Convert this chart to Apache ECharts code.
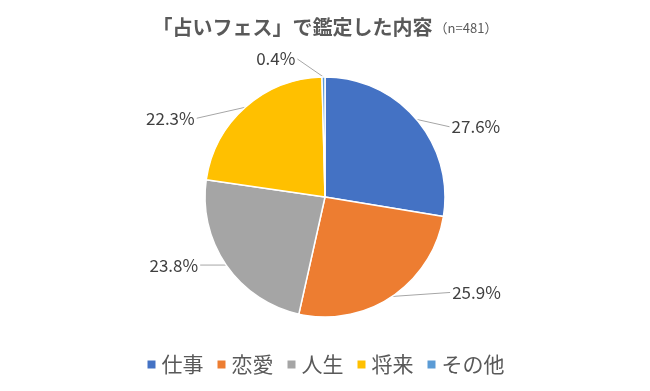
<!DOCTYPE html>
<html><head><meta charset="utf-8">
<script src="https://cdn.jsdelivr.net/npm/echarts@6/dist/echarts.min.js"></script>
<style>html,body{margin:0;padding:0;background:#fff}#c{width:650px;height:391px}</style>
</head><body><div id="c"></div>
<script>
const categories = ['仕事', '恋愛', '人生', '将来', 'その他'];
const values = [27.6, 25.9, 23.8, 22.3, 0.4];
const colors = ['#4472C4', '#ED7D31', '#A5A5A5', '#FFC000', '#5B9BD5'];
const titleText = '「占いフェス」で鑑定した内容';
const subText = '（n=481）';

const lineCfg = [
  {length: 4, length2: 30},
  {length: 0, length2: 58},
  {length: 0, length2: 26},
  {length: 4, length2: 46},
  {length: 8, length2: 26}
];
const labelDy = [10, -4, 0, 14, -10];
const font = '"Noto Sans CJK JP", "Noto Sans", sans-serif';
const chart = echarts.init(document.getElementById('c'));
chart.setOption({
  animation: false,
  color: colors,
  title: {
    text: '{a|' + titleText + '}{b|' + subText + '}',
    left: 'center', top: 12,
    textStyle: {
      rich: {
        a: {fontSize: 20, fontWeight: 'bold', color: '#595959', fontFamily: font},
        b: {fontSize: 13, fontWeight: 'normal', color: '#595959', fontFamily: font, padding: [3, 0, 0, 2]}
      }
    }
  },
  legend: {
    bottom: 11, left: 'center',
    itemWidth: 10, itemHeight: 10, itemGap: 12,
    icon: 'rect',
    textStyle: {fontSize: 21, color: '#595959', fontFamily: font, padding: [0, 0, 0, 0]},
    data: categories
  },
  series: [{
    type: 'pie',
    center: [325, 197],
    radius: [0, 120],
    startAngle: 90,
    clockwise: true,
    avoidLabelOverlap: false,
    itemStyle: {borderColor: '#fff', borderWidth: 1.5},
    label: {
      formatter: p => p.value.toFixed(1) + '%',
      fontSize: 17, color: '#404040', fontFamily: font, distanceToLabelLine: 2
    },
    labelLine: {lineStyle: {color: '#A6A6A6', width: 1}},
    labelLayout: p => {
      const dy = labelDy[p.dataIndex];
      const pts = p.labelLinePoints;
      if (!pts) return {dy: dy};
      return {
        dy: dy,
        labelLinePoints: [pts[0], pts[0], [pts[2][0], pts[2][1] + dy]]
      };
    },
    data: categories.map((c, i) => ({name: c, value: values[i], labelLine: lineCfg[i]}))
  }]
});
</script></body></html>
